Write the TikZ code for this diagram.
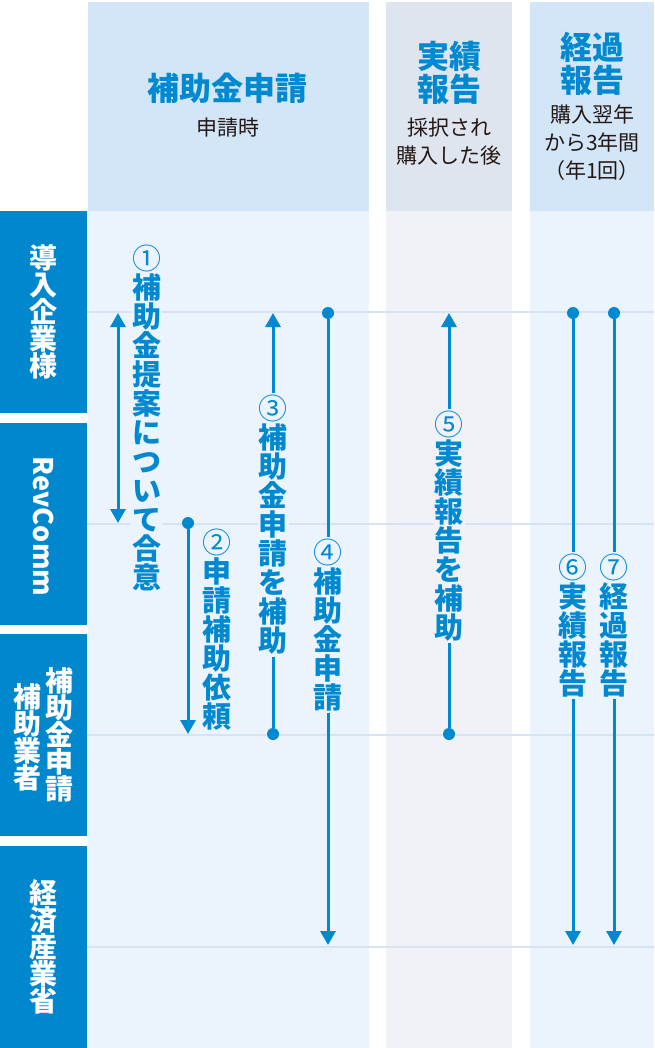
\documentclass[tikz,border=0pt]{standalone}
\usepackage{fontspec}
\setmainfont{Noto Sans CJK JP}
\usetikzlibrary{arrows.meta}
\usetikzlibrary{positioning}
\definecolor{accent}{HTML}{0088D0}
\definecolor{lanebg}{HTML}{0087CE}
\definecolor{hdrblue}{HTML}{D3E6F7}
\definecolor{bodyblue}{HTML}{EBF4FD}
\definecolor{hdrgray}{HTML}{DFE5EE}
\definecolor{bodygray}{HTML}{F0F2F7}
\definecolor{rowblue}{HTML}{D5E3F5}
\definecolor{notetext}{HTML}{231815}
\makeatletter
\newcommand\tate[2][29pt]{\vbox{\baselineskip=#1\relax
  \@tfor\tchar:=#2\do{\hbox to 1em{\hss\tchar\hss}}}}
\makeatother
\newcommand\num[1]{{\mdseries #1}}
\tikzset{lane/.style = {fill=lanebg, text=white, font=\fontsize{28}{27}\bfseries,
                        minimum width=87pt, minimum height=202pt, inner sep=0}}
\tikzset{lanetext/.style = {text=white, font=\fontsize{28}{27}\bfseries, inner sep=0}}
\tikzset{title/.style = {text=accent, align=center, font=\fontsize{32}{33}\bfseries, inner sep=0}}
\tikzset{note/.style = {text=notetext, align=center, font=\fontsize{21}{28}\selectfont, inner sep=0}}
\tikzset{tatelabel/.style = {fill=bodyblue, text=accent, font=\fontsize{29}{29}\bfseries,
                             inner xsep=1pt, inner ysep=2pt}}
\tikzset{circ/.style = {fill=accent, circle, inner sep=0, minimum size=12pt}}
\tikzset{link/.style = {draw=accent, line width=3pt}}
\tikzset{rowline/.style = {draw=rowblue, line width=2pt}}

\begin{document}
\begin{tikzpicture}[x=1pt, y=-1pt, >={Triangle[width=15pt,length=14pt]}]
  \useasboundingbox (0,0) rectangle (654,1048);
  % columns
  \fill[hdrblue] (88,2) rectangle (369,211);
  \fill[bodyblue] (88,211) rectangle (369,1048);
  \fill[hdrgray] (386,2) rectangle (512,211);
  \fill[bodygray] (386,211) rectangle (512,1048);
  \fill[hdrblue] (530,2) rectangle (654,211);
  \fill[bodyblue] (530,211) rectangle (654,1048);
  \node[title] (h1) at (227,88) {補助金申請};
  \node[note] (n1) at (228,128) {申請時};
  \node[title] (h2) at (449,73) {実績\\報告};
  \node[note] (n2) at (449,142) {採択され\\購入した後};
  \node[title] (h3) at (592,64) {経過\\報告};
  \node[note] (n3) at (592,143) {購入翌年\\から3年間\\（年1回）};
  % lanes
  \node[lane] (r1) at (43.5,312) {\tate[27pt]{導入企業様}};
  \node[lane] (r2) at (43.5,523.5) {};
  \node[lanetext, rotate=-90, font=\fontsize{27}{27}\bfseries] (t2) at ([yshift=-3pt]r2.center) {RevComm};
  \node[lane] (r3) at (43.5,734.5) {};
  \node[lanetext] (t3a) at ([xshift=15.5pt]r3.center) {\tate[27pt]{補助金申請}};
  \node[lanetext] (t3b) at ([xshift=-16.5pt, yshift=-2.5pt]r3.center) {\tate[27pt]{補助業者}};
  \node[lane] (r4) at (43.5,946.5) {\tate[27pt]{経済産業省}};
  \foreach \r in {r1,r2,r3,r4}
    \draw[rowline] (\r.east) -- ++(567,0);
  % labels
  \node[tatelabel] (l1) at (146.5,418) {\tate{{\num①}補助金提案について合意}};
  \node[tatelabel] (l2) at (217,630) {\tate{{\num②}申請補助依頼}};
  \node[tatelabel] (l3) at (273,525) {\tate{{\num③}補助金申請を補助}};
  \node[tatelabel] (l4) at (328,625) {\tate{{\num④}補助金申請}};
  \node[tatelabel, fill=bodygray] (l5) at (449,526) {\tate{{\num⑤}実績報告を補助}};
  \node[tatelabel] (l6) at (573,625.5) {\tate{{\num⑥}実績報告}};
  \node[tatelabel] (l7) at (614,625.5) {\tate{{\num⑦}経過報告}};
  % arrows
  \coordinate (e1a) at (118,313);
  \coordinate (e1b) at (118,523);
  \draw[link, <->] (e1a) -- (e1b);
  \node[circ] (d2) at (188,523) {};
  \coordinate (e2) at (188,734);
  \draw[link, ->] (d2) -- (e2);
  \node[circ] (d3) at (273,734) {};
  \coordinate (e3) at (273,313);
  \draw[link] (d3) -- (l3);
  \draw[link, ->] (l3) -- (e3);
  \node[circ] (d4) at (328,313) {};
  \coordinate (e4) at (328,945);
  \draw[link] (d4) -- (l4);
  \draw[link, ->] (l4) -- (e4);
  \node[circ] (d5) at (449,734) {};
  \coordinate (e5) at (449,313);
  \draw[link] (d5) -- (l5);
  \draw[link, ->] (l5) -- (e5);
  \node[circ] (d6) at (573,313) {};
  \coordinate (e6) at (573,945);
  \draw[link] (d6) -- (l6);
  \draw[link, ->] (l6) -- (e6);
  \node[circ] (d7) at (614,313) {};
  \coordinate (e7) at (614,945);
  \draw[link] (d7) -- (l7);
  \draw[link, ->] (l7) -- (e7);
\end{tikzpicture}
\end{document}
